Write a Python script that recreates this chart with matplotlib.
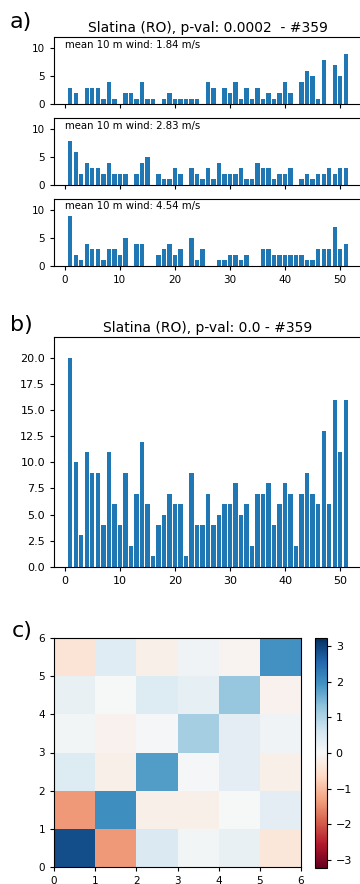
import numpy as np
import matplotlib
matplotlib.use('Agg')
import matplotlib.pyplot as plt

# weekly counts (weeks 1..51)
weeks = np.arange(1, 52)
low_wind = [3, 2, 0, 3, 3, 3, 1, 4, 1, 0, 2, 2, 1, 4, 1, 1, 0, 1, 2, 1,
            1, 1, 1, 1, 0, 4, 3, 0, 3, 2, 4, 1, 3, 1, 3, 1, 2, 1, 2, 4,
            2, 0, 4, 6, 5, 1, 8, 0, 7, 5, 9]
mid_wind = [8, 6, 2, 4, 3, 3, 2, 4, 2, 2, 2, 0, 2, 4, 5, 0, 2, 1, 1, 3,
            2, 0, 3, 2, 1, 3, 1, 4, 2, 2, 2, 3, 1, 1, 4, 3, 3, 1, 2, 2,
            3, 0, 1, 2, 1, 2, 2, 3, 2, 3, 3]
high_wind = [9, 2, 1, 4, 3, 3, 1, 3, 3, 2, 5, 0, 4, 4, 0, 0, 2, 3, 4, 2,
             3, 0, 5, 1, 3, 0, 0, 1, 1, 2, 2, 1, 2, 0, 0, 3, 3, 2, 2, 2,
             2, 2, 2, 1, 1, 3, 3, 3, 7, 3, 4]
mean_winds = [1.84, 2.83, 4.54]
total = [20, 10, 3, 11, 9, 9, 4, 11, 6, 4, 9, 2, 7, 12, 6, 1, 4, 5, 7, 6,
         6, 1, 9, 4, 4, 7, 4, 5, 6, 6, 8, 5, 6, 2, 7, 7, 8, 4, 6, 8,
         7, 2, 7, 9, 7, 6, 13, 6, 16, 11, 16]

# 6x6 matrix for panel c (rows bottom -> top)
matrix = np.array([
    [2.85, -1.4, 0.5, 0.1, 0.25, -0.4],
    [-1.4, 2.0, -0.2, -0.2, 0.0, 0.35],
    [0.45, -0.2, 1.8, 0.05, 0.35, -0.2],
    [0.1, -0.15, 0.05, 1.1, 0.35, 0.15],
    [0.25, 0.0, 0.45, 0.3, 1.25, -0.15],
    [-0.45, 0.4, -0.2, 0.15, -0.1, 1.95],
])
vlim = 3.22

W, H = 360, 884
fig = plt.figure(figsize=(W / 100, H / 100), dpi=100)


def box(left, right, top, bottom):
    # pixel box -> figure fraction
    return [left / W, 1 - bottom / H, (right - left) / W, (bottom - top) / H]


# ---- panel a ----
a_tops = [37.3, 118.3, 199]
a_bots = [104.3, 185, 266]
series = [low_wind, mid_wind, high_wind]
for i in range(3):
    ax = fig.add_axes(box(54, 362, a_tops[i], a_bots[i]))
    ax.bar(weeks, series[i], color='#1f77b4')
    ax.set_ylim(0, 12)
    ax.set_xlim(-1.95, 53.95)
    ax.set_xticks([0, 10, 20, 30, 40, 50])
    ax.set_yticks([0, 5, 10])
    ax.tick_params(labelsize=7.5, length=3)
    if i < 2:
        ax.set_xticklabels([])
    ax.text(0.036, 0.89, 'mean 10 m wind: %.2f m/s' % mean_winds[i],
            transform=ax.transAxes, fontsize=7.3, va='center', ha='left')
    if i == 0:
        ax.set_title('Slatina (RO), p-val: 0.0002  - #359', fontsize=10, pad=4)

fig.text(10 / W, 1 - 22 / H, 'a)', fontsize=16, va='center', ha='left')

# ---- panel b ----
axb = fig.add_axes(box(54, 362, 337.3, 566.7))
axb.bar(weeks, total, color='#1f77b4')
axb.set_ylim(0, 22)
axb.set_xlim(-1.95, 53.95)
axb.set_xticks([0, 10, 20, 30, 40, 50])
axb.set_yticks(np.arange(0, 20.1, 2.5))
axb.tick_params(labelsize=8, length=3)
axb.set_title('Slatina (RO), p-val: 0.0 - #359', fontsize=10, pad=4)
fig.text(10 / W, 1 - 325 / H, 'b)', fontsize=16, va='center', ha='left')

# ---- panel c ----
axc = fig.add_axes(box(54, 301, 638.3, 866.7))
mesh = axc.pcolormesh(np.arange(7), np.arange(7), matrix, cmap='RdBu',
                      vmin=-vlim, vmax=vlim)
axc.set_xticks(range(7))
axc.set_yticks(range(7))
axc.tick_params(labelsize=7.5, length=3)
cax = fig.add_axes(box(315, 326.7, 638, 867.7))
cb = fig.colorbar(mesh, cax=cax)
cb.set_ticks([-3, -2, -1, 0, 1, 2, 3])
cb.ax.tick_params(labelsize=8, length=3)
fig.text(12 / W, 1 - 631 / H, 'c)', fontsize=16, va='center', ha='left')

fig.savefig('out.png', dpi=100)
